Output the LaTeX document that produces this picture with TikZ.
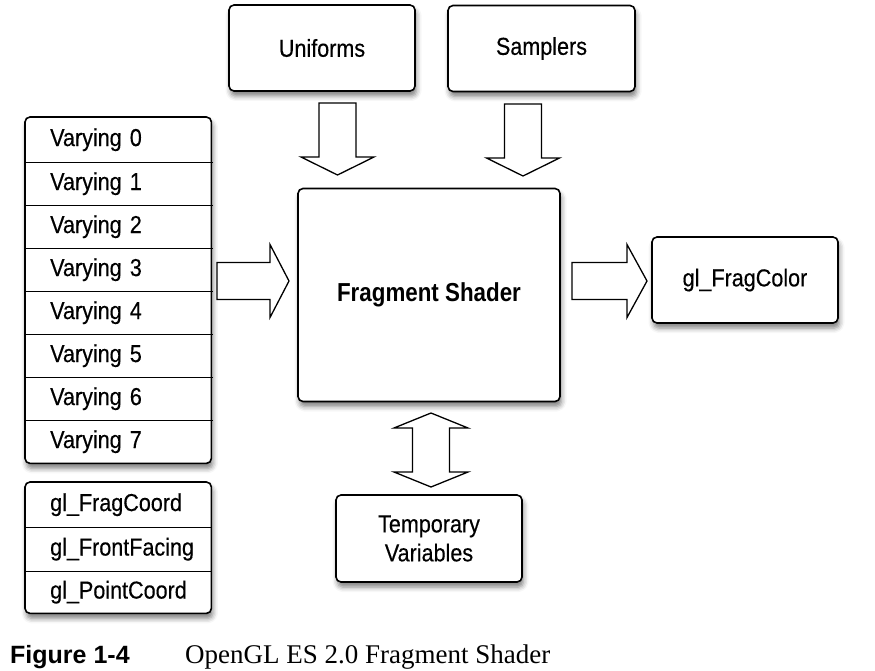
\documentclass[tikz,border=0pt]{standalone}
\usepackage{fontspec}
\setmainfont{Liberation Sans}
\newfontfamily\capserif{Liberation Serif}
\newfontfamily\condsans[FakeStretch=0.88,FakeBold=0.35,WordSpace=0.75]{Liberation Sans}
\newfontfamily\condsansbold[FakeStretch=0.86]{Liberation Sans Bold}
\usetikzlibrary{shadows.blur,backgrounds,fit,calc}

\begin{document}
\begin{tikzpicture}[x=1pt,y=-1pt,
  box/.style={draw, line width=1.6pt, rounded corners=5pt, fill=white,
    blur shadow={shadow xshift=1.5pt, shadow yshift=-5pt, shadow blur radius=5pt, shadow opacity=50}},
  lbl/.style={font=\condsans\fontsize{24.5}{29}\selectfont, align=center, inner sep=0pt},
  rowbox/.style={font=\condsans\fontsize{24.5}{26}\selectfont, inner xsep=25pt, inner ysep=0pt,
    text width=136pt, align=left, anchor=north west},
  divider/.style={line width=1.6pt},
  blk/.style={draw, line width=1.3pt, fill=white, line join=miter},
  pics/blockarrow/.style 2 args={code={
    \draw[blk] (-18.5,0) -- (18.5,0) -- (18.5,{#1-#2}) -- (36.5,{#1-#2}) -- (0,#1)
      -- (-36.5,{#1-#2}) -- (-18.5,{#1-#2}) -- cycle;}},
]
\useasboundingbox (0,0) rectangle (875,671);

% top boxes
\node[box, lbl, minimum width=186pt, minimum height=86pt] (uni) at (322,48) {Uniforms};
\node[box, lbl, minimum width=187pt, minimum height=86pt] (sam) at (541.5,48.5) {Samplers};
% central shader
\node[box, lbl, minimum width=262pt, minimum height=213pt,
  font=\condsansbold\fontsize{26}{30}\selectfont] (fs) at (429,295) {Fragment Shader};
% output
\node[box, lbl, minimum width=186pt, minimum height=86pt] (out) at (745,280) {gl\_FragColor};
% temporaries
\node[box, lbl, minimum width=186pt, minimum height=87pt] (tmp) at (429,538.5) {Temporary\\Variables};

% varyings stack
\node[rowbox, minimum height=45pt] (v0) at (25,117) {Varying 0};
\foreach \i in {1,...,7}{
  \pgfmathsetmacro{\yy}{162+43*(\i-1)}
  \node[rowbox, minimum height=43pt] (v\i) at (25,\yy) {Varying \i};
}
\begin{scope}[on background layer]
  \node[box, fit=(v0)(v7), inner sep=0pt] (vstack) {};
\end{scope}
\foreach \a in {v0,v1,v2,v3,v4,v5,v6}{
  \draw[divider] (\a.south west) -- ([xshift=1.5pt]\a.south east);
}

% built-in stack
\node[rowbox, minimum height=45pt] (g0) at (25,482) {gl\_FragCoord};
\node[rowbox, minimum height=44pt] (g1) at (25,527) {gl\_FrontFacing};
\node[rowbox, minimum height=42pt] (g2) at (25,571) {gl\_PointCoord};
\begin{scope}[on background layer]
  \node[box, fit=(g0)(g2), inner sep=0pt] (gstack) {};
\end{scope}
\draw[divider] (g0.south west) -- (g0.south east);
\draw[divider] (g1.south west) -- (g1.south east);

% block arrows
\coordinate (ua) at (337.5,103);
\coordinate (sa) at (523,104);
\coordinate (va) at (217,281);
\coordinate (oa) at (572,281);
\pic at (ua) {blockarrow={72}{18}};
\pic at (sa) {blockarrow={72}{18}};
\pic[rotate=90] at (va) {blockarrow={72}{19}};
\pic[rotate=90] at (oa) {blockarrow={75}{20}};
\draw[blk] (431,413) -- (468,428) -- (449.5,428) -- (449.5,472) -- (468,472) -- (431,487)
  -- (394,472) -- (412.5,472) -- (412.5,428) -- (394,428) -- cycle;

% caption
\node[anchor=base west, inner sep=0pt, font=\fontsize{25}{28}\selectfont\bfseries] (fig) at (10,663) {Figure 1-4};
\node[anchor=base west, inner sep=0pt, font=\capserif\fontsize{27}{30}\selectfont] (cap) at (185,663) {OpenGL ES 2.0 Fragment Shader};
\end{tikzpicture}
\end{document}
